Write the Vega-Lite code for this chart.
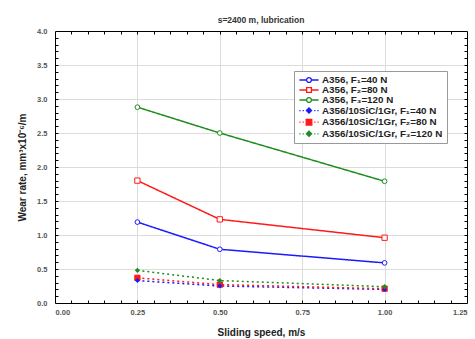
{
  "$schema": "https://vega.github.io/schema/vega-lite/v6.json",
  "width": 412,
  "height": 272,
  "autosize": {"type": "none"},
  "padding": {"left": 55, "top": 31, "right": 8, "bottom": 36},
  "background": "white",
  "title": {"text": "s=2400 m, lubrication", "fontSize": 8.5, "font": "Liberation Sans", "fontWeight": "bold", "color": "#333", "offset": 3, "anchor": "middle"},
  "data": {"values": [
    {"speed": 0.25, "wear": 1.19, "series": "A356, F₁=40 N", "grp": "A356"},
    {"speed": 0.5, "wear": 0.79, "series": "A356, F₁=40 N", "grp": "A356"},
    {"speed": 1.0, "wear": 0.59, "series": "A356, F₁=40 N", "grp": "A356"},
    {"speed": 0.25, "wear": 1.80, "series": "A356, F₂=80 N", "grp": "A356"},
    {"speed": 0.5, "wear": 1.23, "series": "A356, F₂=80 N", "grp": "A356"},
    {"speed": 1.0, "wear": 0.96, "series": "A356, F₂=80 N", "grp": "A356"},
    {"speed": 0.25, "wear": 2.88, "series": "A356, F₃=120 N", "grp": "A356"},
    {"speed": 0.5, "wear": 2.50, "series": "A356, F₃=120 N", "grp": "A356"},
    {"speed": 1.0, "wear": 1.79, "series": "A356, F₃=120 N", "grp": "A356"},
    {"speed": 0.25, "wear": 0.33, "series": "A356/10SiC/1Gr, F₁=40 N", "grp": "comp"},
    {"speed": 0.5, "wear": 0.25, "series": "A356/10SiC/1Gr, F₁=40 N", "grp": "comp"},
    {"speed": 1.0, "wear": 0.20, "series": "A356/10SiC/1Gr, F₁=40 N", "grp": "comp"},
    {"speed": 0.25, "wear": 0.37, "series": "A356/10SiC/1Gr, F₂=80 N", "grp": "comp"},
    {"speed": 0.5, "wear": 0.27, "series": "A356/10SiC/1Gr, F₂=80 N", "grp": "comp"},
    {"speed": 1.0, "wear": 0.21, "series": "A356/10SiC/1Gr, F₂=80 N", "grp": "comp"},
    {"speed": 0.25, "wear": 0.48, "series": "A356/10SiC/1Gr, F₃=120 N", "grp": "comp"},
    {"speed": 0.5, "wear": 0.33, "series": "A356/10SiC/1Gr, F₃=120 N", "grp": "comp"},
    {"speed": 1.0, "wear": 0.24, "series": "A356/10SiC/1Gr, F₃=120 N", "grp": "comp"}
  ]},
  "layer": [
    {
      "mark": {"type": "line", "strokeWidth": 1.5, "strokeCap": "butt"},
      "encoding": {
        "x": {"field": "speed", "type": "quantitative", "scale": {"domain": [0, 1.25], "nice": false, "zero": false},
          "axis": {"orient": "bottom", "values": [0, 0.25, 0.5, 0.75, 1.0, 1.25], "format": ".2f", "ticks": false, "grid": true, "gridColor": "#dcdcdc", "domain": true, "domainColor": "#000", "labelPadding": 5, "labelFont": "Liberation Sans", "labelFontSize": 7.5, "labelColor": "#555", "labelFontWeight": "bold", "title": "Sliding speed, m/s", "titleFont": "Liberation Sans", "titleFontSize": 10, "titleFontWeight": "bold", "titleColor": "#222", "titlePadding": 12}},
        "y": {"field": "wear", "type": "quantitative", "scale": {"domain": [0, 4], "nice": false},
          "axis": {"orient": "left", "values": [0, 0.5, 1, 1.5, 2, 2.5, 3, 3.5, 4], "format": ".1f", "ticks": false, "grid": true, "gridColor": "#dcdcdc", "domain": true, "domainColor": "#000", "labelPadding": 8, "labelFont": "Liberation Sans", "labelFontSize": 7.5, "labelColor": "#555", "labelFontWeight": "bold", "title": "Wear rate, mm³x10⁻⁶/m", "titleFont": "Liberation Sans", "titleFontSize": 10, "titleFontWeight": "bold", "titleColor": "#222", "titlePadding": 9}},
        "color": {"field": "series", "type": "nominal",
          "scale": {"domain": ["A356, F₁=40 N", "A356, F₂=80 N", "A356, F₃=120 N", "A356/10SiC/1Gr, F₁=40 N", "A356/10SiC/1Gr, F₂=80 N", "A356/10SiC/1Gr, F₃=120 N"],
                    "range": ["#1a1aff", "#ff1a1a", "#1e8c1e", "#1a1aff", "#ff1a1a", "#1e8c1e"]},
          "legend": {"title": null, "orient": "none", "legendX": 239, "legendY": 40, "strokeColor": "#999", "fillColor": "white", "padding": 4, "labelFont": "Liberation Sans", "labelFontSize": 9.8, "labelFontWeight": "bold", "labelColor": "#222", "symbolSize": 64, "symbolOffset": 6, "labelOffset": 8, "rowPadding": -0.4, "symbolStrokeWidth": 1.3,
            "encode": {"symbols": {"update": {
              "shape": {"signal": "(indexof(datum.value,'SiC')>=0 ? 'M-2.4,0L-2.1,0M-1.6,0L-1.3,0M1.3,0L1.6,0M2.1,0L2.4,0' : 'M-2.4,0L-0.6,0M0.6,0L2.4,0') + (indexof(datum.value,'SiC')>=0 ? (indexof(datum.value,'F₂')>=0 ? 'M-0.7,-0.7L0.7,-0.7L0.7,0.7L-0.7,0.7Z' : 'M0,-0.65L0.65,0L0,0.65L-0.65,0Z') : (indexof(datum.value,'F₂')>=0 ? 'M-0.6,-0.6L0.6,-0.6L0.6,0.6L-0.6,0.6Z' : 'M-0.6,0A0.6,0.6,0,1,1,0.6,0A0.6,0.6,0,1,1,-0.6,0Z'))"},
              "stroke": {"signal": "indexof(datum.value,'F₁')>=0 ? '#1a1aff' : indexof(datum.value,'F₂')>=0 ? '#ff1a1a' : '#1e8c1e'"},
              "fill": {"signal": "indexof(datum.value,'SiC')<0 ? 'white' : indexof(datum.value,'F₁')>=0 ? '#1a1aff' : indexof(datum.value,'F₂')>=0 ? '#ff1a1a' : '#1e8c1e'"},
              "fillOpacity": {"value": 1},
              "strokeDash": {"value": []},
              "opacity": {"value": 1}
            }}}}},
        "strokeDash": {"field": "grp", "type": "nominal", "scale": {"domain": ["A356", "comp"], "range": [[1, 0], [2, 3]]}, "legend": null}
      }
    },
    {
      "transform": [{"filter": "indexof(datum.series,'F₂') < 0 && datum.grp == 'A356'"}],
      "mark": {"type": "point", "shape": "circle", "size": 22, "opacity": 1, "strokeWidth": 1, "fill": "white"},
      "encoding": {
        "x": {"field": "speed", "type": "quantitative",
          "axis": {"orient": "bottom", "values": [0.05, 0.1, 0.15, 0.2, 0.25, 0.3, 0.35, 0.4, 0.45, 0.5, 0.55, 0.6, 0.65, 0.7, 0.75, 0.8, 0.85, 0.9, 0.95, 1.0, 1.05, 1.1, 1.15, 1.2], "labels": false, "grid": false, "domain": false, "ticks": true, "tickSize": -3, "tickColor": "#000", "title": null}},
        "y": {"field": "wear", "type": "quantitative",
          "axis": {"orient": "left", "values": [0.1, 0.2, 0.3, 0.4, 0.5, 0.6, 0.7, 0.8, 0.9, 1.0, 1.1, 1.2, 1.3, 1.4, 1.5, 1.6, 1.7, 1.8, 1.9, 2.0, 2.1, 2.2, 2.3, 2.4, 2.5, 2.6, 2.7, 2.8, 2.9, 3.0, 3.1, 3.2, 3.3, 3.4, 3.5, 3.6, 3.7, 3.8, 3.9], "labels": false, "grid": false, "domain": false, "ticks": true, "tickSize": -3, "tickColor": "#000", "title": null}},
        "stroke": {"field": "series", "type": "nominal", "scale": {"domain": ["A356, F₁=40 N", "A356, F₃=120 N"], "range": ["#1a1aff", "#1e8c1e"]}, "legend": null}
      }
    },
    {
      "transform": [{"filter": "indexof(datum.series,'F₂') >= 0"}],
      "mark": {"type": "point", "shape": "square", "size": 28, "opacity": 1, "strokeWidth": 1, "stroke": "#ff1a1a"},
      "encoding": {
        "x": {"field": "speed", "type": "quantitative", "axis": null},
        "y": {"field": "wear", "type": "quantitative", "axis": null},
        "fill": {"field": "grp", "type": "nominal", "scale": {"domain": ["A356", "comp"], "range": ["white", "#ff1a1a"]}, "legend": null}
      }
    },
    {
      "transform": [{"filter": "datum.series == 'A356/10SiC/1Gr, F₁=40 N'"}],
      "mark": {"type": "point", "shape": "diamond", "size": 24, "opacity": 1, "filled": true, "fill": "#1a1aff", "strokeWidth": 0},
      "encoding": {
        "x": {"field": "speed", "type": "quantitative", "axis": null},
        "y": {"field": "wear", "type": "quantitative", "axis": null}
      }
    },
    {
      "transform": [{"filter": "datum.series == 'A356/10SiC/1Gr, F₃=120 N'"}],
      "mark": {"type": "point", "shape": "diamond", "size": 28, "opacity": 1, "filled": true, "fill": "#1e8c1e", "strokeWidth": 0},
      "encoding": {
        "x": {"field": "speed", "type": "quantitative", "axis": null},
        "y": {"field": "wear", "type": "quantitative", "axis": null}
      }
    },
    {
      "mark": {"type": "point", "opacity": 0},
      "encoding": {
        "x": {"field": "speed", "type": "quantitative",
          "axis": {"orient": "top", "values": [0.05, 0.1, 0.15, 0.2, 0.25, 0.3, 0.35, 0.4, 0.45, 0.5, 0.55, 0.6, 0.65, 0.7, 0.75, 0.8, 0.85, 0.9, 0.95, 1.0, 1.05, 1.1, 1.15, 1.2], "labels": false, "grid": false, "domain": true, "domainColor": "#000", "ticks": true, "tickSize": -3, "tickColor": "#000", "title": null}},
        "y": {"field": "wear", "type": "quantitative",
          "axis": {"orient": "right", "values": [0.1, 0.2, 0.3, 0.4, 0.5, 0.6, 0.7, 0.8, 0.9, 1.0, 1.1, 1.2, 1.3, 1.4, 1.5, 1.6, 1.7, 1.8, 1.9, 2.0, 2.1, 2.2, 2.3, 2.4, 2.5, 2.6, 2.7, 2.8, 2.9, 3.0, 3.1, 3.2, 3.3, 3.4, 3.5, 3.6, 3.7, 3.8, 3.9], "labels": false, "grid": false, "domain": true, "domainColor": "#000", "ticks": true, "tickSize": -3, "tickColor": "#000", "title": null}}
      }
    }
  ],
  "resolve": {"axis": {"x": "independent", "y": "independent"}, "scale": {"fill": "independent", "stroke": "independent"}},
  "config": {"view": {"stroke": null}}
}
